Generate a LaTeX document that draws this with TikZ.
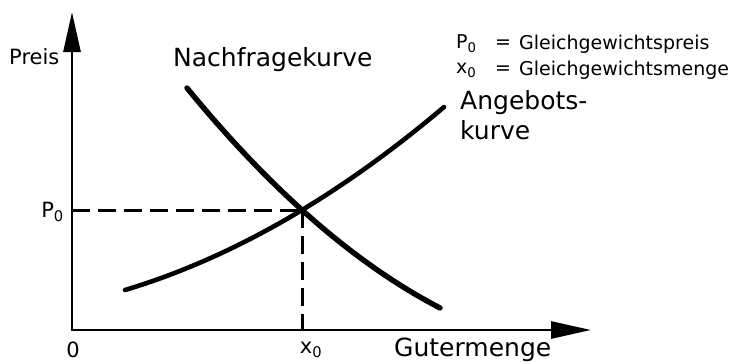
\documentclass[tikz,border=0pt]{standalone}
\usepackage{fontspec}
\setmainfont{DejaVu Sans}
\usetikzlibrary{arrows.meta}
\begin{document}
\begin{tikzpicture}[x=1pt,y=-1pt,
  axis/.style={line width=2.8pt,-{Triangle[length=40pt,width=17pt]}},
  curveline/.style={line width=4.6pt,line cap=round},
  demandline/.style={line width=5.4pt,line cap=round},
  guide/.style={line width=3pt,dash pattern=on 18pt off 8pt},
  big/.style={font=\fontsize{25}{30}\selectfont,inner sep=0pt},
  mid/.style={font=\fontsize{21}{24}\selectfont,inner sep=0pt},
  small/.style={font=\fontsize{19}{22}\selectfont,inner sep=0pt}
]
\useasboundingbox (0,0) rectangle (733,362);
\coordinate (O) at (72,330);
\coordinate (ytip) at (72,12);
\coordinate (xtip) at (591,330);
\coordinate (E) at (302,210);
\draw[axis] (O) -- (ytip);
\draw[axis] ([xshift=-1.4pt]O) -- (xtip);
\draw[guide] (O |- E) -- (E);
\draw[guide] (E) -- (E |- O);
\draw[curveline] plot[domain=125:444,samples=80] (\x,{-8.56*(\x/100)^2-0.0865*\x+314.2});
\draw[demandline] plot[domain=187:440,samples=80] (\x,{-13.87*(\x/100)^2+1.739*\x-188.7});
\node[mid,anchor=west] (preis) at (9,57) {Preis};
\node[big,anchor=west] (nach) at (173,60) {Nachfragekurve};
\node[big,anchor=north west,align=left] (ang) at (460,90) {Angebots-\\kurve};
\node[small,anchor=west] (p0l) at (456,44) {P\textsubscript{0}};
\node[small] (eq1) at (503,44) {=};
\node[small,anchor=west] (gp) at (519,44) {Gleichgewichtspreis};
\node[small,anchor=west] (x0l) at (456,70) {x\textsubscript{0}};
\node[small] (eq2) at (503,70) {=};
\node[small,anchor=west] (gm) at (519,70) {Gleichgewichtsmenge};
\node[mid,anchor=east] (p0) at (64,212) {P\textsubscript{0}};
\node[mid] (zero) at (73,350) {0};
\node[mid] (x0) at (311,350) {x\textsubscript{0}};
\node[big,anchor=west] (gut) at (394,350) {Gutermenge};
\end{tikzpicture}
\end{document}
